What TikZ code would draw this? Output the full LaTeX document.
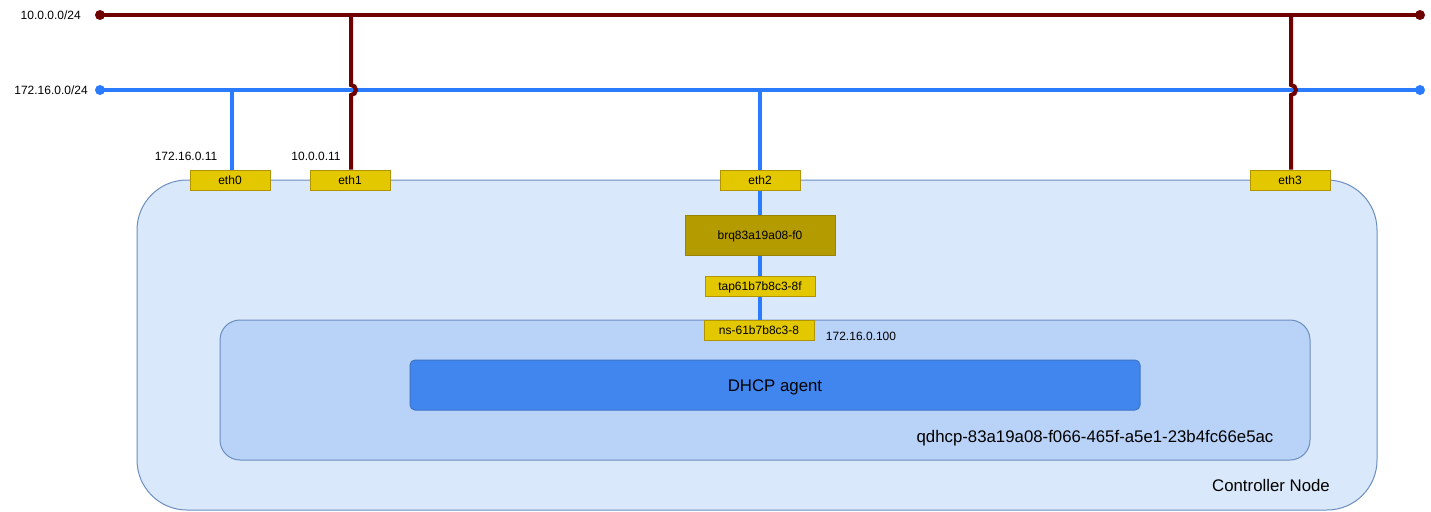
\documentclass[tikz,border=0pt]{standalone}
\usepackage{fontspec}
\setmainfont{Liberation Sans}
\definecolor{netred}{HTML}{6F0000}
\definecolor{netblue}{HTML}{2B7BFF}
\definecolor{ctrlfill}{HTML}{DAE8FC}
\definecolor{ctrlline}{HTML}{6C8EBF}
\definecolor{nsfill}{HTML}{B8D2F8}
\definecolor{agentfill}{HTML}{4086EE}
\definecolor{agentline}{HTML}{3D74C4}
\definecolor{ifill}{HTML}{E3C800}
\definecolor{iline}{HTML}{B09500}
\definecolor{brfill}{HTML}{B39B00}
\definecolor{brline}{HTML}{9A8500}
\pgfdeclarelayer{bg}
\pgfdeclarelayer{mid}
\pgfsetlayers{bg,mid,main}
\tikzset{
  smalltext/.style={font=\fontsize{9}{10}\selectfont, text height=6.45pt, text depth=0pt},
  largetext/.style={font=\fontsize{12.6}{14}\selectfont, text height=9pt, text depth=0pt},
  iface/.style={smalltext, draw=iline, fill=ifill, line width=0.75pt, inner sep=0pt,
    minimum width=60pt, minimum height=15pt},
  bridgebox/.style={smalltext, draw=brline, fill=brfill, line width=0.75pt, inner sep=0pt,
    minimum width=112.5pt, minimum height=30pt},
  lbl/.style={smalltext, inner sep=0pt},
  biglbl/.style={largetext, inner sep=0pt},
  redline/.style={draw=netred, line width=3pt},
  blueline/.style={draw=netblue, line width=3pt},
}
\begin{document}
\begin{tikzpicture}[x=0.75pt, y=-0.75pt]
\useasboundingbox (0,0) rectangle (1431,511);

\begin{pgfonlayer}{bg}
\node[draw=ctrlline, fill=ctrlfill, line width=0.75pt, rounded corners=37.5pt,
  minimum width=930pt, minimum height=247.5pt, inner sep=0pt] (ctrl) at (757,345) {};
\node[draw=ctrlline, fill=nsfill, line width=0.75pt, rounded corners=15pt,
  minimum width=817.5pt, minimum height=105pt, inner sep=0pt] (ns) at (765,390) {};
\end{pgfonlayer}

\node[largetext, draw=agentline, fill=agentfill, line width=0.75pt, rounded corners=3.75pt,
  minimum width=547.5pt, minimum height=37.5pt, inner sep=0pt] (agent) at (775,385) {DHCP agent};

\node[iface] (eth0) at (230,180) {eth0};
\node[iface] (eth1) at (350,180) {eth1};
\node[iface] (eth2) at (760,180) {eth2};
\node[iface] (eth3) at (1290,180) {eth3};
\node[bridgebox] (brq) at (760,235) {brq83a19a08-f0};
\node[iface, minimum width=82.5pt] (tap) at (760,286) {tap61b7b8c3-8f};
\node[iface, minimum width=82.5pt] (nsif) at (759,330) {ns-61b7b8c3-8};

\node[lbl, anchor=east] (lnA) at (81,15) {10.0.0.0/24};
\node[lbl, anchor=east] (lnB) at (88,90) {172.16.0.0/24};
\node[lbl] (ip0) at (186,156) {172.16.0.11};
\node[lbl] (ip1) at (316,156) {10.0.0.11};
\node[lbl] (ipns) at (861,336) {172.16.0.100};
\node[biglbl] (nsname) at (1095,436) {qdhcp-83a19a08-f066-465f-a5e1-23b4fc66e5ac};
\node[biglbl] (ctrlname) at (1271,485) {Controller Node};

\coordinate (aL) at (100,15);
\coordinate (aR) at (1420,15);
\coordinate (bL) at (100,90);
\coordinate (bR) at (1420,90);
\coordinate (t0) at (232,90);
\coordinate (t1) at (351,15);
\coordinate (t2) at (760,90);
\coordinate (t3) at (1291,15);
\coordinate (h1) at (351,85);
\coordinate (h3) at (1291,85);

\begin{pgfonlayer}{mid}
\draw[redline] (aL) -- (aR);
\draw[blueline] (bL) -- (bR);
\fill[netred] (aL) circle (3.75pt);
\fill[netred] (aR) circle (3.75pt);
\fill[netblue] (bL) circle (3.75pt);
\fill[netblue] (bR) circle (3.75pt);
\draw[blueline] (t0) -- (t0 |- eth0.north);
\draw[blueline] (t2) -- (t2 |- nsif.north);
\draw[redline] (t1) -- (h1) arc[start angle=90, end angle=-90, radius=3.75pt] -- (t1 |- eth1.north);
\draw[redline] (t3) -- (h3) arc[start angle=90, end angle=-90, radius=3.75pt] -- (t3 |- eth3.north);
\end{pgfonlayer}
\end{tikzpicture}
\end{document}
